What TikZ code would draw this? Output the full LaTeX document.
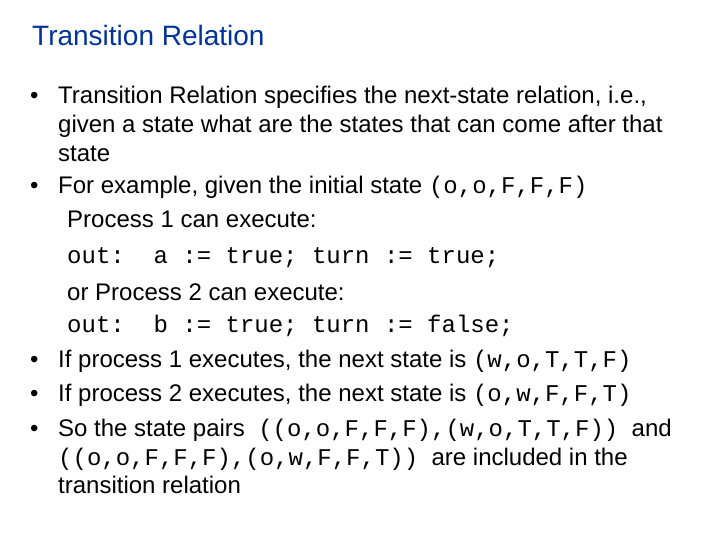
\documentclass[tikz,border=0pt]{standalone}
\usepackage{fontspec}
\setmainfont{Liberation Sans}
\setmonofont{Liberation Mono}
\definecolor{titleblue}{RGB}{0,51,153}
\begin{document}
\begin{tikzpicture}[x=1pt,y=1pt,
  tl/.style={anchor=base west,inner sep=0pt,font=\fontsize{24}{28}\selectfont},
  ml/.style={anchor=base west,inner sep=0pt,font=\fontsize{24}{28}\selectfont\ttfamily},
  bul/.style={anchor=base west,inner sep=0pt,font=\fontsize{24}{28}\selectfont}]
\useasboundingbox[fill=white] (0,0) rectangle (720,-540);
\node[anchor=base west,inner sep=0pt,font=\fontsize{28}{32}\selectfont,text=titleblue] (title) at (32,-46) {Transition Relation};
\node[bul] (b1) at (30,-104) {\textbullet};
\node[tl] (l1) at (58,-104) {Transition Relation specifies the next-state relation, i.e.,};
\node[tl] (l2) at (58,-133) {given a state what are the states that can come after that};
\node[tl] (l3) at (58,-162) {state};
\node[bul] (b2) at (30,-194) {\textbullet};
\node[tl] (l4) at (58,-194) {For example, given the initial state {\ttfamily(o,o,F,F,F)}};
\node[tl] (l5) at (67,-227) {Process 1 can execute:};
\node[ml] (l6) at (67,-263) {out:\ \ a := true; turn := true;};
\node[tl] (l7) at (67,-300) {or Process 2 can execute:};
\node[ml] (l8) at (67,-332) {out:\ \ b := true; turn := false;};
\node[bul] (b3) at (30,-367) {\textbullet};
\node[tl] (l9) at (58,-367) {If process 1 executes, the next state is {\ttfamily(w,o,T,T,F)}};
\node[bul] (b4) at (30,-401) {\textbullet};
\node[tl] (l10) at (58,-401) {If process 2 executes, the next state is {\ttfamily(o,w,F,F,T)}};
\node[bul] (b5) at (30,-436) {\textbullet};
\node[tl] (l11) at (58,-436) {So the state pairs \ {\ttfamily((o,o,F,F,F),(w,o,T,T,F))} \ and};
\node[tl] (l12) at (58,-465) {{\ttfamily((o,o,F,F,F),(o,w,F,F,T))} \ are included in the};
\node[tl] (l13) at (58,-493) {transition relation};
\end{tikzpicture}
\end{document}
